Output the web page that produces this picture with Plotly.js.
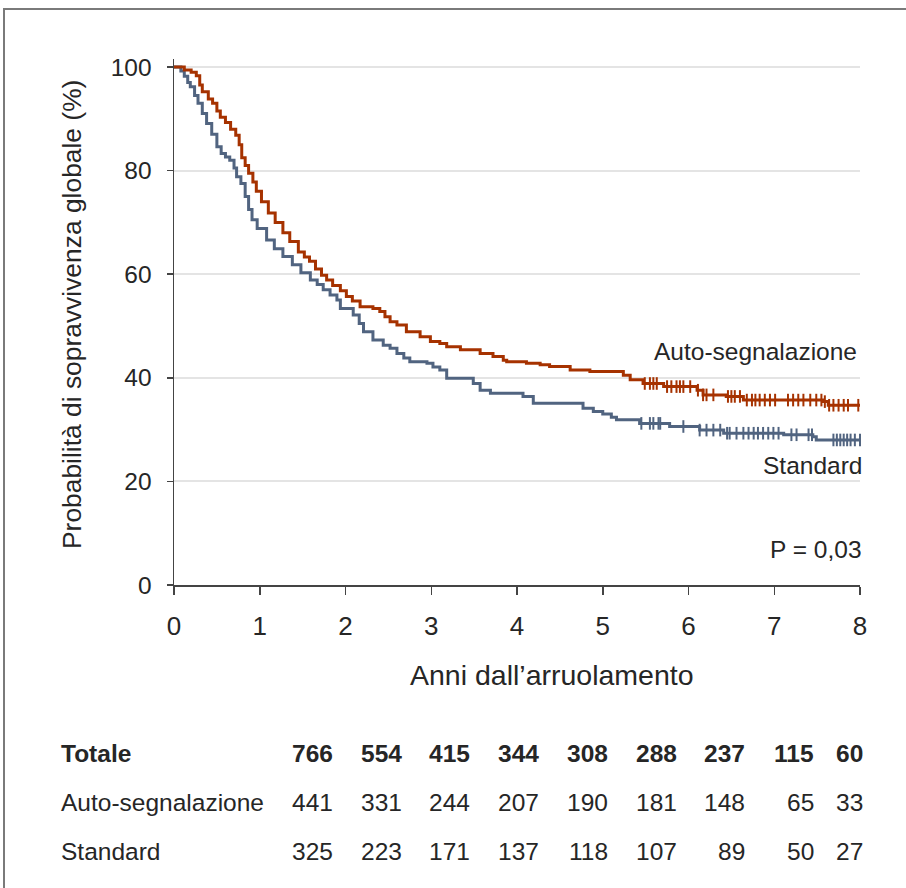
<!DOCTYPE html>
<html>
<head>
<meta charset="utf-8">
<script src="https://cdn.plot.ly/plotly-3.0.1.min.js"></script>
<style>
  html, body { margin: 0; padding: 0; background: #fff; overflow: hidden; }
  #wrap { position: relative; width: 906px; height: 888px; }
  #chart { position: absolute; left: 0; top: 0; width: 906px; height: 888px; }
  #frame { position: absolute; left: 3px; top: 8px; width: 1200px; height: 1200px;
           border-left: 2px solid #7a7a7a; border-top: 2px solid #7a7a7a; pointer-events: none; }
</style>
</head>
<body>
<div id="wrap"><div id="chart"></div><div id="frame"></div></div>
<script>
// ---------- DATA ----------
const autoTime = [0, 0.08, 0.12, 0.20, 0.26, 0.30, 0.33, 0.40, 0.45, 0.50, 0.54, 0.60, 0.66, 0.72, 0.76, 0.79, 0.83, 0.87, 0.92, 0.96,
  1.02, 1.10, 1.18, 1.27, 1.35, 1.45, 1.52, 1.58, 1.65, 1.72, 1.78, 1.85, 1.94, 2.01, 2.08, 2.17, 2.32, 2.40, 2.46, 2.52,
  2.60, 2.71, 2.87, 2.99, 3.10, 3.18, 3.34, 3.57, 3.72, 3.84, 3.88, 4.11, 4.27, 4.38, 4.62, 4.85, 5.24, 5.32, 5.47, 5.71,
  6.10, 6.17, 6.44, 6.64, 7.57, 7.63, 8.00];
const autoSurv = [100, 100, 99.4, 99.0, 98.3, 96.5, 95.2, 93.8, 93.0, 91.5, 90.3, 89.3, 88.0, 86.8, 85.0, 82.5, 81.0, 79.5, 77.8, 76.0,
  74.0, 71.8, 70.0, 68.0, 66.3, 64.3, 63.3, 62.5, 61.0, 59.8, 58.9, 57.8, 56.8, 55.7, 54.8, 53.7, 53.4, 52.8, 51.8, 50.8,
  50.2, 48.9, 47.9, 47.0, 46.6, 46.0, 45.4, 44.7, 44.1, 43.4, 43.1, 42.8, 42.5, 42.2, 41.5, 41.2, 40.5, 39.6, 38.9, 38.3,
  37.6, 36.7, 36.4, 35.7, 35.4, 34.7, 34.7];

const stdTime = [0, 0.05, 0.08, 0.12, 0.16, 0.19, 0.24, 0.28, 0.33, 0.38, 0.44, 0.50, 0.55, 0.60, 0.65, 0.70, 0.73, 0.78, 0.83, 0.87,
  0.91, 0.97, 1.08, 1.17, 1.27, 1.38, 1.48, 1.59, 1.67, 1.74, 1.82, 1.90, 1.94, 2.09, 2.16, 2.21, 2.32, 2.44, 2.52, 2.60,
  2.68, 2.75, 2.95, 3.02, 3.10, 3.18, 3.49, 3.57, 3.69, 4.07, 4.19, 4.77, 4.89, 5.00, 5.10, 5.16, 5.43, 5.78, 6.13, 6.41,
  7.11, 7.45, 7.49, 8.00];
const stdSurv = [100, 100, 99.2, 98.2, 97.0, 96.2, 94.5, 93.0, 91.0, 89.1, 87.0, 84.6, 83.3, 82.6, 82.0, 80.5, 78.8, 77.5, 75.0, 72.5,
  70.5, 68.8, 66.6, 64.9, 63.4, 61.8, 60.3, 58.9, 58.0, 57.0, 56.0, 55.0, 53.4, 52.1, 50.5, 48.9, 47.3, 46.3, 45.7, 44.7,
  43.8, 43.1, 42.8, 42.1, 41.5, 39.9, 38.9, 37.6, 37.0, 36.4, 35.1, 34.1, 33.5, 33.0, 32.4, 31.9, 31.2, 30.6, 29.9, 29.3,
  29.0, 28.6, 28.0, 28.0];

const autoCensor = [5.49, 5.55, 5.59, 5.63, 5.75, 5.80, 5.86, 5.90, 5.94, 6.02, 6.11, 6.17, 6.21, 6.29, 6.46, 6.50, 6.54, 6.60,
  6.68, 6.74, 6.78, 6.83, 6.89, 6.95, 7.01, 7.16, 7.22, 7.28, 7.34, 7.42, 7.49, 7.55, 7.59, 7.64, 7.69, 7.75, 7.81, 7.86, 7.98];
const stdCensor = [5.45, 5.55, 5.59, 5.65, 5.67, 5.94, 6.13, 6.21, 6.29, 6.37, 6.45, 6.48, 6.56, 6.64, 6.70, 6.76, 6.81, 6.87,
  6.93, 6.99, 7.05, 7.20, 7.26, 7.40, 7.44, 7.69, 7.73, 7.77, 7.81, 7.85, 7.89, 7.94, 8.00];

const seriesNames = ['Auto-segnalazione', 'Standard'];
const yTicks = [0, 20, 40, 60, 80, 100];
const xTicks = [0, 1, 2, 3, 4, 5, 6, 7, 8];
const xTitle = 'Anni dall\u2019arruolamento';
const yTitle = 'Probabilità di sopravvivenza globale (%)';
const pText = 'P = 0,03';

const rowLabels = ['Totale', 'Auto-segnalazione', 'Standard'];
const atRiskTotal = [766, 554, 415, 344, 308, 288, 237, 115, 60];
const atRiskAuto = [441, 331, 244, 207, 190, 181, 148, 65, 33];
const atRiskStd = [325, 223, 171, 137, 118, 107, 89, 50, 27];

// ---------- STYLE / LAYOUT ----------
const FONT = 'Liberation Sans, Arial, sans-serif';
const TXT = '#262626';
const C_AUTO = '#a63200';
const C_STD = '#516480';

function stepY(times, surv, t) {
  let v = surv[0];
  for (let i = 0; i < times.length; i++) { if (times[i] <= t) v = surv[i]; else break; }
  return v;
}

// pixel helpers for layout (plot area: x 174..860, y 59..585)
const PL = 174, PW = 686, PB = 585, PH = 526;
const px2x = p => (p - PL) / PW;
const px2y = p => (PB - p) / PH;

const traces = [
  { x: stdTime, y: stdSurv, mode: 'lines', line: { shape: 'hv', color: C_STD, width: 3 }, name: seriesNames[1], showlegend: false },
  { x: stdCensor, y: stdCensor.map(t => stepY(stdTime, stdSurv, t)), mode: 'markers',
    marker: { symbol: 'line-ns', size: 9, color: C_STD, line: { color: C_STD, width: 2 } }, showlegend: false, cliponaxis: false },
  { x: autoTime, y: autoSurv, mode: 'lines', line: { shape: 'hv', color: C_AUTO, width: 3 }, name: seriesNames[0], showlegend: false },
  { x: autoCensor, y: autoCensor.map(t => stepY(autoTime, autoSurv, t)), mode: 'markers',
    marker: { symbol: 'line-ns', size: 9, color: C_AUTO, line: { color: C_AUTO, width: 2 } }, showlegend: false, cliponaxis: false }
];

const annotations = [];
// axis titles
annotations.push({ xref: 'paper', yref: 'paper', x: px2x(552), y: px2y(675), xanchor: 'center', yanchor: 'middle',
  text: xTitle, showarrow: false, font: { family: FONT, size: 28.5, color: TXT } });
annotations.push({ xref: 'paper', yref: 'paper', x: px2x(72), y: px2y(315), xanchor: 'center', yanchor: 'middle',
  text: yTitle, textangle: -90, showarrow: false, font: { family: FONT, size: 26.4, color: TXT } });
// curve labels
annotations.push({ xref: 'paper', yref: 'paper', x: px2x(859), y: px2y(351), xanchor: 'right', yanchor: 'middle',
  text: seriesNames[0], showarrow: false, font: { family: FONT, size: 24.5, color: TXT } });
annotations.push({ xref: 'paper', yref: 'paper', x: px2x(864), y: px2y(465), xanchor: 'right', yanchor: 'middle',
  text: seriesNames[1], showarrow: false, font: { family: FONT, size: 24.5, color: TXT } });
annotations.push({ xref: 'paper', yref: 'paper', x: px2x(864), y: px2y(549), xanchor: 'right', yanchor: 'middle',
  text: pText, showarrow: false, font: { family: FONT, size: 24.5, color: TXT } });

// at-risk table
const rowY = [753, 802, 852];
const colRight = [335, 404, 472, 541, 610, 679, 747, 816, 865];
const rows = [atRiskTotal, atRiskAuto, atRiskStd];
rowLabels.forEach((lab, r) => {
  const bold = r === 0;
  annotations.push({ xref: 'paper', yref: 'paper', x: px2x(59), y: px2y(rowY[r]), xanchor: 'left', yanchor: 'middle',
    text: bold ? '<b>' + lab + '</b>' : lab, showarrow: false, font: { family: FONT, size: 24.5, color: TXT } });
  rows[r].forEach((v, c) => {
    annotations.push({ xref: 'paper', yref: 'paper', x: px2x(colRight[c]), y: px2y(rowY[r]), xanchor: 'right', yanchor: 'middle',
      text: bold ? '<b>' + v + '</b>' : String(v), showarrow: false, font: { family: FONT, size: 24.5, color: TXT } });
  });
});

const layout = {
  width: 906, height: 888,
  margin: { l: PL, r: 906 - PL - PW, t: PB - PH, b: 888 - PB, pad: 0 },
  paper_bgcolor: '#ffffff', plot_bgcolor: '#ffffff',
  showlegend: false,
  xaxis: {
    range: [0, 8], tickvals: xTicks, ticktext: xTicks.map(String),
    showgrid: false, zeroline: false, showline: true, linecolor: '#444', linewidth: 1.5,
    ticks: 'outside', ticklen: 8, tickwidth: 1.5, tickcolor: '#444', ticklabelstandoff: 9,
    tickfont: { family: FONT, size: 26, color: TXT }, fixedrange: true
  },
  yaxis: {
    range: [0, 101.54], tickvals: yTicks, ticktext: yTicks.map(String),
    showgrid: true, gridcolor: '#e4e4e4', gridwidth: 2, zeroline: false,
    showline: true, linecolor: '#444', linewidth: 1.5,
    ticks: 'outside', ticklen: 6, tickwidth: 1.5, tickcolor: '#444', ticklabelstandoff: 10,
    tickfont: { family: FONT, size: 24.5, color: TXT }, fixedrange: true
  },
  annotations: annotations
};

Plotly.newPlot('chart', traces, layout, { staticPlot: true, displayModeBar: false });
</script>
</body>
</html>
